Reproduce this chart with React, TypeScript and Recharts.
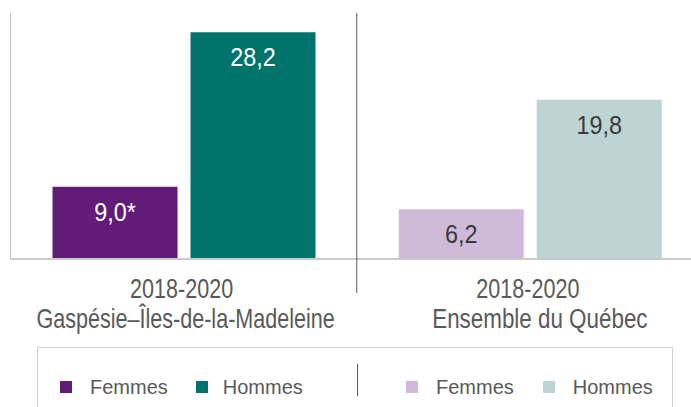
import React from "react";
import { BarChart, Bar, XAxis, YAxis, Cell, LabelList } from "recharts";

const periods = ["2018-2020", "2018-2020"];
const regions = ["Gaspésie–Îles-de-la-Madeleine", "Ensemble du Québec"];
const femmes = [9.0, 6.2];
const hommes = [28.2, 19.8];
const femmesLabels = ["9,0*", "6,2"];
const hommesLabels = ["28,2", "19,8"];
const femmesColors = ["#611c77", "#cfbada"];
const hommesColors = ["#00736a", "#bdd3d4"];
const labelColors = ["#ffffff", "#3a3a3a"];
const legendNames = ["Femmes", "Hommes"];

const data = periods.map((p, i) => ({
  name: regions[i],
  period: p,
  femmes: femmes[i],
  hommes: hommes[i],
  femmesLabel: femmesLabels[i],
  hommesLabel: hommesLabels[i],
}));

const PLOT_TOP = 13;
const PLOT_H = 246;
const AXIS_TEXT = "#595959";
const FONT = "'Liberation Sans', Arial, sans-serif";

const NarrowText = ({ x, y, sx, size, fill, children }: any) => (
  <g transform={`translate(${x},${y}) scale(${sx},1)`}>
    <text x={0} y={0} textAnchor="middle" fill={fill} fontSize={size} fontFamily={FONT}>
      {children}
    </text>
  </g>
);

const Tick = (props: any) => {
  const { x, y, payload, index } = props;
  const off = payload && payload.offset ? payload.offset : 173;
  const d = data[index] || data[0];
  return (
    <g>
      {index === 0 && (
        <line x1={x + off} x2={x + off} y1={y - PLOT_H} y2={y + 34} stroke="#595959" strokeWidth={1} />
      )}
      <NarrowText x={x - 2} y={y + 39} sx={0.77} size={28} fill={AXIS_TEXT}>
        {d.period}
      </NarrowText>
      <NarrowText x={x + (index === 1 ? 10 : 2)} y={y + 69} sx={index === 1 ? 0.8 : 0.77} size={28} fill={AXIS_TEXT}>
        {d.name}
      </NarrowText>
    </g>
  );
};

const makeLabel = (key: "femmesLabel" | "hommesLabel") => (props: any) => {
  const { x, y, width, index } = props;
  return (
    <NarrowText x={x + width / 2} y={y + 34} sx={0.9} size={26} fill={labelColors[index]}>
      {data[index][key]}
    </NarrowText>
  );
};

const LegendItem = ({ color, label, gap }: { color: string; label: string; gap: number }) => (
  <div style={{ display: "flex", alignItems: "center" }}>
    <div style={{ width: 12, height: 12, background: color, marginRight: gap }} />
    <span style={{ fontSize: 20, color: AXIS_TEXT, lineHeight: "20px" }}>{label}</span>
  </div>
);

export default function App() {
  return (
    <div
      style={{
        position: "absolute",
        left: 0,
        top: 0,
        width: 691,
        height: 407,
        overflow: "hidden",
        background: "#fff",
        fontFamily: FONT,
      }}
    >
      <BarChart
        width={720}
        height={407}
        data={data}
        margin={{ top: PLOT_TOP, right: 17, left: 9.5, bottom: 147 }}
        barSize={125}
        barGap={13}
      >
        <YAxis
          width={1}
          domain={[0, 30.6]}
          tick={false}
          tickLine={false}
          axisLine={{ stroke: "#c4c4c4", strokeWidth: 1 }}
        />
        <XAxis
          dataKey="name"
          height={1}
          tickSize={0}
          tickMargin={0}
          tickLine={false}
          axisLine={{ stroke: "#cacaca", strokeWidth: 2 }}
          tick={<Tick />}
          interval={0}
        />
        <Bar dataKey="femmes" isAnimationActive={false}>
          {data.map((_, i) => (
            <Cell key={i} fill={femmesColors[i]} />
          ))}
          <LabelList dataKey="femmesLabel" content={makeLabel("femmesLabel")} />
        </Bar>
        <Bar dataKey="hommes" isAnimationActive={false}>
          {data.map((_, i) => (
            <Cell key={i} fill={hommesColors[i]} />
          ))}
          <LabelList dataKey="hommesLabel" content={makeLabel("hommesLabel")} />
        </Bar>
      </BarChart>
      <div
        style={{
          position: "absolute",
          left: 37,
          top: 347,
          width: 636,
          height: 80,
          border: "1px solid #d2d2d2",
          boxSizing: "border-box",
        }}
      >
        <div style={{ position: "absolute", left: 22, top: 29, display: "flex", gap: 28 }}>
          <LegendItem color={femmesColors[0]} label={legendNames[0]} gap={18} />
          <LegendItem color={hommesColors[0]} label={legendNames[1]} gap={15} />
        </div>
        <div style={{ position: "absolute", left: 319, top: 16, width: 1, height: 32, background: "#595959" }} />
        <div style={{ position: "absolute", left: 368, top: 29, display: "flex", gap: 29 }}>
          <LegendItem color={femmesColors[1]} label={legendNames[0]} gap={18} />
          <LegendItem color={hommesColors[1]} label={legendNames[1]} gap={18} />
        </div>
      </div>
    </div>
  );
}
